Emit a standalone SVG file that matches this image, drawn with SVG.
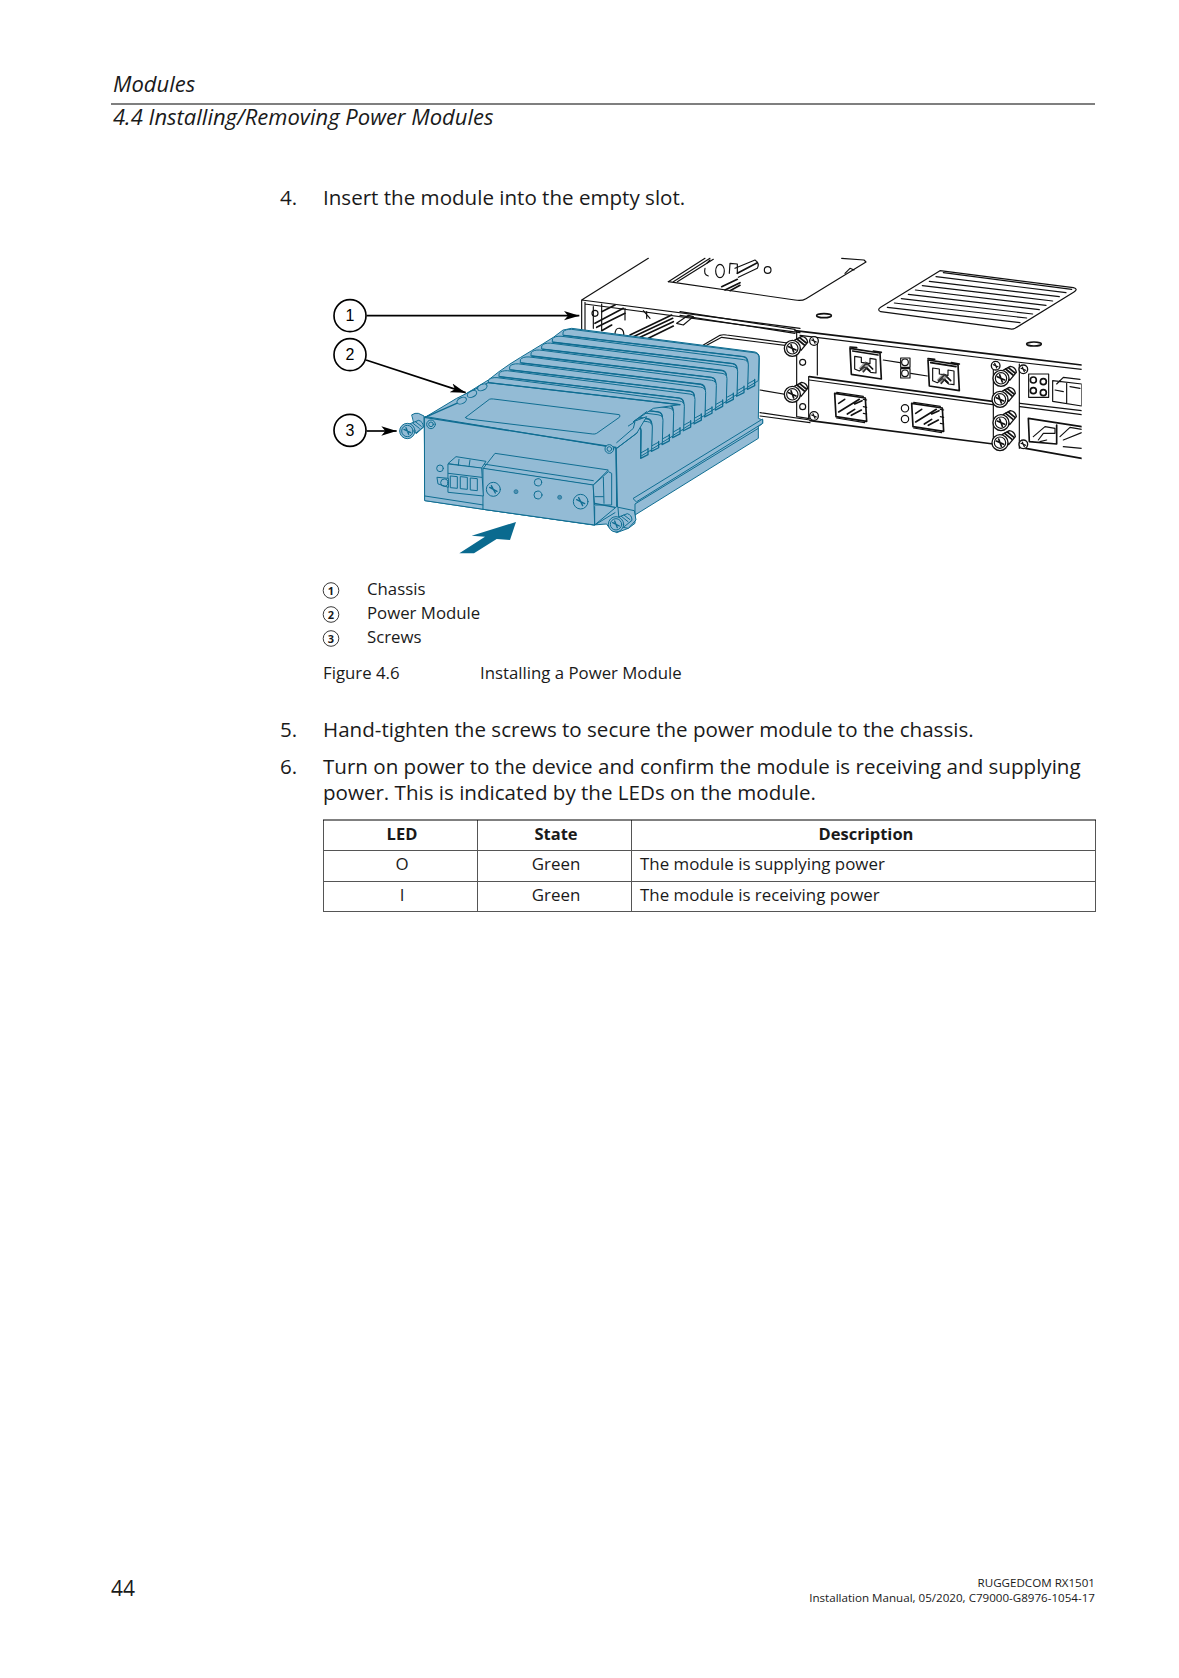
<svg xmlns="http://www.w3.org/2000/svg" xmlns:xlink="http://www.w3.org/1999/xlink" width="1179" height="1678" viewBox="0 0 1179 1678">
<style>
text{font-family:"Open Sans","Noto Sans","Liberation Sans",sans-serif;fill:#1a1a1a}
.step{font-size:20.57px}
.hd{font-size:22px;font-style:italic}
.leg{font-size:16.8px}
.th{font-size:16.5px;font-weight:700;text-anchor:middle}
.td{font-size:16.9px}
.c{text-anchor:middle}
.foot{font-size:11.6px;text-anchor:end}
.num{font-family:"Liberation Sans",Arial,sans-serif;font-size:48px;text-anchor:middle;fill:#000}
.lnum{font-size:11px;font-weight:700;text-anchor:middle}
.k{fill:none;stroke:#111;stroke-width:3.500;stroke-linejoin:round;stroke-linecap:round}
.kt{fill:none;stroke:#111;stroke-width:5;stroke-linejoin:round;stroke-linecap:round}
.kw{fill:#fff;stroke:#111;stroke-width:4;stroke-linejoin:round}
.b{fill:none;stroke:#0f6d92;stroke-width:3;stroke-linejoin:round;stroke-linecap:round}
.bf{fill:#93bbd5;stroke:#0f6d92;stroke-width:3;stroke-linejoin:round;stroke-linecap:round}
.bt{fill:none;stroke:#0f6d92;stroke-width:4;stroke-linejoin:round;stroke-linecap:round}
.call{fill:#fff;stroke:#000;stroke-width:5}
.ln{fill:none;stroke:#000;stroke-width:5}
.tb{stroke:#555;stroke-width:1;fill:none}
</style>
<defs>
<marker id="ah" markerUnits="userSpaceOnUse" markerWidth="50" markerHeight="30" refX="46" refY="15" orient="auto">
<path d="M0,1 L46,15 L0,29 L12,15 Z" fill="#000"/>
</marker>
<clipPath id="clipR"><rect x="-400" y="0" width="1605" height="720"/></clipPath>
<g id="kscrew">
<path class="kw" d="M6,-24 L28,-36 Q44,-34 46,-18 L26,6 Z"/>
<path class="kt" d="M14,-28 L36,-10 M22,-32 L42,-16"/>
<circle class="kw" cx="0" cy="0" r="24"/>
<circle class="k" cx="0" cy="0" r="17"/>
<path class="kt" d="M-11,-5 L11,5 M-4,-11 L4,11"/>
</g>
<g id="ksm"><circle class="kw" r="13"/><path class="k" d="M-7,-3 L7,3 M-3,-7 L3,7"/></g>
<g id="port">
<path class="kt" d="M0,0 L90,14 L94,92 L4,78 Z"/>
<path class="kt" d="M8,8 L84,20 M0,-4 L20,-2 M70,8 L94,12"/>
<path class="k" d="M14,24 L34,27 L34,42 L60,46 L60,30 L78,33 L78,74 L62,72 L44,56 L28,68 L14,62 Z"/>
<path class="kt" d="M32,62 L50,44 L68,62 M40,70 L50,58 L60,68"/>
<path d="M26,60 L46,38 L60,50 L40,72 Z" fill="#555" opacity=".5"/>
</g>
<g id="sfp">
<path class="kt" d="M0,0 L92,14 L96,84 L4,70 Z"/>
<path class="k" d="M6,-3 L86,9 M6,74 L90,88"/>
<path class="kt" d="M12,56 L74,18 M38,62 L60,48 M60,32 L82,22 M12,30 L30,18 M50,66 L80,50"/>
<path class="k" d="M86,18 L96,20 M86,40 L96,42 M86,60 L96,62"/>
</g>
<g id="bscrew">
<path class="bf" d="M8,-22 L34,-32 Q48,-28 48,-12 L26,6 Z"/>
<path class="b" d="M16,-24 L36,-8 M24,-28 L42,-14"/>
<circle class="bf" r="23"/>
<circle class="b" r="17"/>
<path class="bt" d="M-10,-5 L10,5 M-4,-10 L4,10"/>
</g>
<g id="fin">
<path class="bf" d="M0,3 Q6,-5 25,-4 L572,66 Q587,68 587,82 L585,150 L552,170 L553,92 Q552,80 540,78 L0,14 Z" stroke-width="2.500"/>
<path class="bt" d="M2,14 L540,78 Q552,80 553,92 L552,176 L574,165 L574,146"/>
<path class="b" d="M552,160 L574,148"/>
</g>
</defs>
<rect width="1179" height="1678" fill="#fff"/>

<g id="header">
<text class="hd" x="113" y="92">Modules</text>
<line x1="111" y1="104" x2="1095" y2="104" stroke="#000" stroke-width="1.200"/>
<text class="hd" x="113" y="125">4.4 Installing/Removing Power Modules</text>
</g>

<g id="step4"><text class="step" x="280" y="205">4.</text><text class="step" x="323" y="205">Insert the module into the empty slot.</text></g>

<g id="chassis" transform="translate(680 240) scale(.33333)" clip-path="url(#clipR)">
<g id="chassis-top">
<path class="k" d="M-35,125 L345,180 Q365,184 378,176 L558,66 L552,60 L485,55"/>
<path class="k" d="M-35,125 L75,55 M-20,125 L90,55 M-8,125 L100,58"/>
<path class="k" d="M495,100 L510,85 L522,90"/>
<path class="kt" d="M172,100 L232,68"/>
<path class="k" d="M165,85 L225,60 Q240,70 232,85 L175,112 M148,100 L150,70 L172,72 L172,100"/>
<circle class="k" cx="263" cy="90" r="10"/>
<ellipse class="k" cx="120" cy="93" rx="13" ry="20"/>
<path class="k" d="M75,85 Q70,105 85,108 M80,70 L90,60"/>
<path class="kt" d="M125,140 L172,118 M135,150 L180,128 M150,152 L180,136"/>
<path class="k" d="M0,215 L345,268 M0,226 L345,280"/>
<path class="kt" d="M345,272 L1205,375"/>
<ellipse class="kt" cx="432" cy="227" rx="22" ry="6"/>
<ellipse class="kt" cx="1062" cy="312" rx="22" ry="6"/>
</g>
<g id="vent">
<path class="k" d="M780,92 L1180,143 Q1196,147 1182,156 L1005,265 Q998,269 985,266 L602,215 Q590,210 602,202 Z"/>
<path class="k" d="M790,98 L1175,148 M768,110 L1158,158 M748,124 L1138,170 M727,137 L1118,183 M706,150 L1098,196 M685,163 L1078,209 M664,176 L1058,222 M643,189 L1040,234 M622,202 L1020,248"/>
</g>
<g id="slots">
<path class="k" d="M70,315 L120,286 Q128,283 140,285 L345,312 M80,316 L125,292 L345,320"/>
<path class="k" d="M240,450 L345,468 M240,518 L390,540 M240,528 L390,548"/>
<path class="kt" d="M390,542 L940,612 M1020,622 L1205,655"/>
<path class="k" d="M350,272 L350,530 L388,536 M412,296 L412,405"/>
<path class="k" d="M360,286 L1010,366 L1205,388"/>
<path class="kt" d="M388,410 L938,484"/>
<path class="k" d="M388,420 L938,494 M386,410 L386,535"/>
<path class="k" d="M940,370 L940,620 M1018,372 L1018,625 M1020,490 L1205,512 M1020,500 L1205,524"/>
</g>
<g id="ports">
<use xlink:href="#port" x="510" y="325"/><use xlink:href="#port" x="744" y="360"/>
<path class="k" d="M610,360 L660,368 M692,400 L742,408"/>
<rect class="k" x="662" y="354" width="28" height="28"/><rect class="k" x="662" y="386" width="28" height="28"/>
<circle class="k" cx="675" cy="367" r="10"/><circle class="k" cx="675" cy="400" r="10"/>
<use xlink:href="#sfp" x="464" y="460"/><use xlink:href="#sfp" x="695" y="490"/>
<circle class="k" cx="675" cy="505" r="11"/><circle class="k" cx="675" cy="537" r="11"/>
<circle class="k" cx="368" cy="367" r="9"/><circle class="k" cx="368" cy="500" r="9"/>
<rect class="k" x="1046" y="402" width="60" height="70"/>
<circle class="kt" cx="1060" cy="420" r="9"/><circle class="kt" cx="1090" cy="425" r="9"/><circle class="kt" cx="1060" cy="452" r="9"/><circle class="kt" cx="1090" cy="458" r="9"/>
<path class="k" d="M1118,422 L1205,432 L1205,498 L1118,484 Z M1160,430 L1160,490 M1130,432 L1150,412 L1200,418 M1125,450 L1150,455 M1170,440 L1200,445"/>
<path class="kt" d="M1045,535 L1205,560 M1045,535 L1048,605 L1130,612 M1130,555 L1130,612"/>
<path class="k" d="M1060,590 L1095,560 L1125,565 L1125,580 L1090,580 L1075,600 M1140,590 L1170,562 L1205,568 M1150,600 L1205,578 M1080,605 L1100,600 M1150,620 L1205,625"/>
</g>
<g id="chassis-screws">
<use xlink:href="#ksm" x="402" y="303"/><use xlink:href="#ksm" x="402" y="528"/>
<use xlink:href="#ksm" x="947" y="377"/><use xlink:href="#ksm" x="1030" y="388"/><use xlink:href="#ksm" x="1030" y="613"/>
<use xlink:href="#kscrew" x="337" y="325"/><use xlink:href="#kscrew" x="337" y="463"/>
<use xlink:href="#kscrew" x="960" y="478"/><use xlink:href="#kscrew" x="963" y="415"/>
<use xlink:href="#kscrew" x="960" y="608"/><use xlink:href="#kscrew" x="963" y="548"/>
</g>
</g>

<g id="chassis-left" transform="translate(300 240) scale(.33333)">
<path class="k" d="M1045,55 L845,180 L1500,265 M845,180 L845,270 M855,187 L855,270 M855,192 L1500,278"/>
<circle class="k" cx="885" cy="220" r="9"/>
<path class="k" d="M880,200 L880,265 M905,192 L905,270 M975,205 L975,240 M1040,215 L1040,235 M1030,212 L1050,235"/>
<path class="kt" d="M885,250 L970,205 M905,215 L945,195 M890,262 L975,220 M905,272 L935,255"/>
<path class="kt" d="M990,285 L1115,225 M1000,290 L1118,235 M1020,292 L1120,245 M1045,295 L1120,258"/>
<path class="k" d="M1130,250 L1165,226 L1180,230 L1150,255 Z"/>
<path class="k" d="M945,285 Q945,262 960,265 Q975,270 970,290"/>
</g>

<g id="module" transform="translate(300 240) scale(.33333)">
<path id="module-base" class="bf" d="M790,270 L815,265 L1365,336 Q1378,340 1378,352 L1375,535 L1388,540 L1388,550 L1375,560 L1375,595 L1005,825 L1005,850 L985,865 L950,878 L925,860 L920,852 L880,855 L550,808 L375,782 L373,560 L372,532 L395,525 L565,420 L597,395 L630,372 L662,352 L695,332 L728,312 L760,292 Z"/>
<use xlink:href="#fin" x="790" y="272"/>
<use xlink:href="#fin" x="758" y="292.700"/>
<use xlink:href="#fin" x="726" y="313.400"/>
<use xlink:href="#fin" x="694" y="334.100"/>
<use xlink:href="#fin" x="662" y="354.800"/>
<use xlink:href="#fin" x="630" y="375.500"/>
<use xlink:href="#fin" x="598" y="396.200"/>
<use xlink:href="#fin" x="566" y="416.900"/>
<use xlink:href="#fin" x="534" y="437.600"/>
<use xlink:href="#fin" x="502" y="458.300"/>
<use xlink:href="#fin" x="470" y="479"/>
<path id="plate" class="bf" d="M375,532 L470,475 L565,428 L1140,494 L1060,505 L1000,545 L1040,530 L1010,580 L950,625 Z" stroke="none"/>
<g id="bumps"><ellipse class="bf" cx="485" cy="482" rx="15" ry="9" transform="rotate(-25 485 482)"/><ellipse class="bf" cx="516" cy="462" rx="15" ry="9" transform="rotate(-25 516 462)"/><ellipse class="bf" cx="547" cy="442" rx="15" ry="9" transform="rotate(-25 547 442)"/></g>
<path class="bt" d="M375,532 L470,490 M565,428 L1140,494"/>
<path class="b" d="M1000,545 L1040,515 M985,558 L1005,545 L1000,565 L950,608 M950,625 L1012,578"/>
<path class="bf" d="M497,532 L568,478 Q572,476 580,477 L958,524 Q962,528 958,532 L890,580 Q885,583 878,582 L505,537 Q496,536 497,532 Z"/>
<path class="bf" d="M1000,775 L1388,537 L1388,550 L1010,785 Z"/>
<path class="b" d="M1005,825 L1005,792 L1375,565"/>
<path id="face" class="bf" d="M373,532 Q373,530 378,530 L948,624 L950,800 L884,855 L550,808 L375,782 Z"/>
<path class="bt" d="M373,532 L948,622 L952,800"/>
<path class="b" d="M375,768 L550,795"/>
<g id="flange-left"><path class="bf" d="M336,524 Q345,518 355,520 L372,528 L372,560 L350,580 Z"/><use xlink:href="#bscrew" x="322" y="573"/></g>
<g fill="none"><circle class="bf" cx="393" cy="553" r="13"/><circle class="b" cx="393" cy="553" r="7"/><circle class="bf" cx="928" cy="627" r="13"/><circle class="b" cx="928" cy="627" r="7"/></g>
<g id="cover">
<path class="bf" d="M550,685 L585,640 L925,690 L880,735 Z"/>
<path class="b" d="M550,672 L880,722"/>
<path class="bf" d="M550,685 L880,735 L884,855 L550,808 Z"/>
<path class="bf" d="M880,735 L925,695 L935,700 L935,795 L885,795 Z"/>
<path class="b" d="M910,712 L912,790 M885,770 L910,770"/>
<path class="bt" d="M884,790 L945,802"/>
<path class="b" d="M884,800 L884,855 L945,818"/>
<circle class="b" cx="714" cy="727" r="11"/><circle class="b" cx="714" cy="765" r="12"/>
<circle cx="648" cy="755" r="6" fill="#4f8fb0" stroke="#0f6d92" stroke-width="2"/><circle cx="779" cy="772" r="6" fill="#4f8fb0" stroke="#0f6d92" stroke-width="2"/>
<circle class="b" cx="580" cy="748" r="21"/><path class="bt" d="M569,742 L591,754 M574,737 L586,759"/>
<circle class="b" cx="842" cy="785" r="22"/><path class="bt" d="M830,779 L854,791 M836,773 L848,797"/>
</g>
<g id="terminal">
<path class="bf" d="M445,670 L468,650 L558,664 L545,684 Z"/>
<path class="bf" d="M445,672 L545,684 L550,768 L445,757 Z"/>
<path class="b" d="M445,700 L545,712 M477,658 L475,676 M510,660 L507,680"/>
<path class="b" d="M452,708 L472,710 L472,745 L452,743 Z M482,710 L502,712 L502,748 L482,746 Z M512,714 L532,716 L532,752 L512,750 Z"/>
<circle class="b" cx="420" cy="685" r="10"/>
<path class="bf" d="M412,712 L445,715 L445,742 L415,732 Z"/><circle class="b" cx="433" cy="728" r="11"/>
</g>
<g id="flange-right"><path class="bf" d="M955,802 L1003,812 L1008,840 L985,865 L960,860 Z"/><use xlink:href="#bscrew" x="948" y="853"/></g>
</g>

<g id="connectors" transform="translate(300 240) scale(.33333)">
<path class="ln" d="M200,227 L838,227" marker-end="url(#ah)"/>
<path class="ln" d="M198,360 L497,458" marker-end="url(#ah)"/>
<path class="ln" d="M200,573 L290,573" marker-end="url(#ah)"/>
<path id="insert-arrow" d="M478,940 L555,890 L515,887 L648,846 L630,900 L590,897 L522,940 Z" fill="#0a6a8f"/>
</g>
<g id="callout-1" transform="translate(300 240) scale(.33333)"><circle class="call" cx="150" cy="227" r="48"/><text class="num" x="150" y="244">1</text></g>
<g id="callout-2" transform="translate(300 240) scale(.33333)"><circle class="call" cx="150" cy="344" r="48"/><text class="num" x="150" y="361">2</text></g>
<g id="callout-3" transform="translate(300 240) scale(.33333)"><circle class="call" cx="150" cy="571" r="48"/><text class="num" x="150" y="588">3</text></g>

<g id="legend">
<circle cx="331" cy="590.500" r="7.800" fill="none" stroke="#222" stroke-width=".9"/><text class="lnum" x="331" y="594.500">1</text><text class="leg" x="367" y="595">Chassis</text>
<circle cx="331" cy="614.500" r="7.800" fill="none" stroke="#222" stroke-width=".9"/><text class="lnum" x="331" y="618.500">2</text><text class="leg" x="367" y="619">Power Module</text>
<circle cx="331" cy="638.500" r="7.800" fill="none" stroke="#222" stroke-width=".9"/><text class="lnum" x="331" y="642.500">3</text><text class="leg" x="367" y="643">Screws</text>
<text class="leg" x="323" y="679">Figure 4.6</text><text class="leg" x="480" y="679">Installing a Power Module</text>
</g>
<g id="steps">
<text class="step" x="280" y="737">5.</text><text class="step" x="323" y="737">Hand-tighten the screws to secure the power module to the chassis.</text>
<text class="step" x="280" y="774">6.</text><text class="step" x="323" y="774">Turn on power to the device and confirm the module is receiving and supplying</text>
<text class="step" x="323" y="800">power. This is indicated by the LEDs on the module.</text>
</g>
<g id="led-table">
<path class="tb" d="M323.500,820 V911 M477.500,820 V911 M631.500,820 V911 M1095.500,820 V911 M323,850.500 H1096 M323,881.500 H1096 M323,911.500 H1096"/>
<line x1="323" y1="820" x2="1096" y2="820" stroke="#000"/>
<text class="th" x="402" y="840">LED</text><text class="th" x="556" y="840">State</text><text class="th" x="866" y="840">Description</text>
<text class="td c" x="402" y="870">O</text><text class="td c" x="556" y="870">Green</text><text class="td" x="640" y="870">The module is supplying power</text>
<text class="td c" x="402" y="901">I</text><text class="td c" x="556" y="901">Green</text><text class="td" x="640" y="901">The module is receiving power</text>
</g>
<g id="footer">
<text x="111" y="1596" font-size="21">44</text>
<text class="foot" x="1095" y="1587">RUGGEDCOM RX1501</text>
<text class="foot" x="1095" y="1602">Installation Manual, 05/2020, C79000-G8976-1054-17</text>
</g>
</svg>
